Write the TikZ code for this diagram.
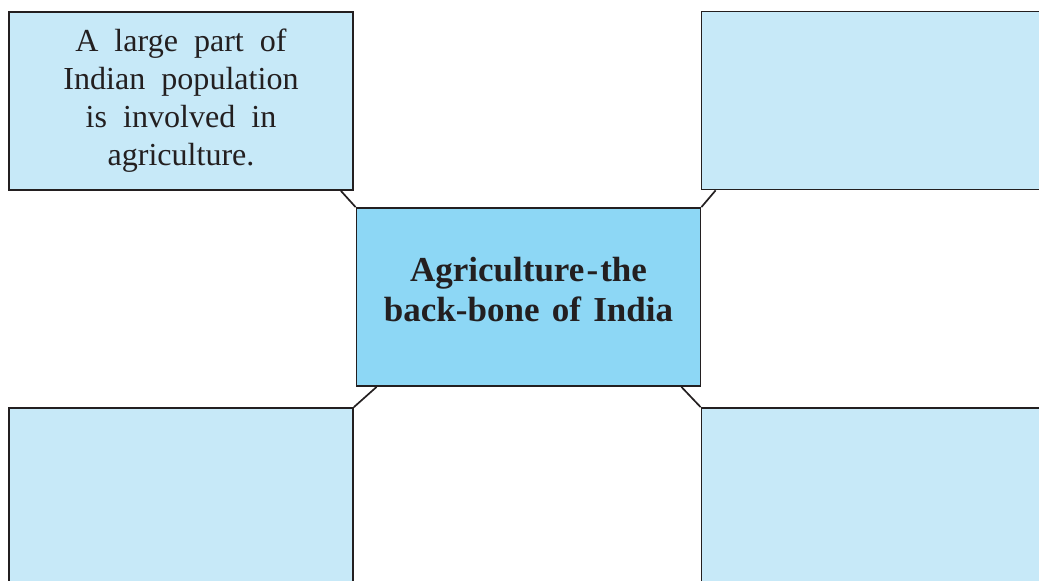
\documentclass[tikz,border=0pt]{standalone}
\usepackage{fontspec}
\setmainfont{Liberation Serif}
\definecolor{paleblue}{RGB}{199,233,248}
\definecolor{midblue}{RGB}{141,215,245}
\definecolor{inkgray}{RGB}{35,31,32}

\begin{document}
\begin{tikzpicture}[x=0.025cm,y=-0.025cm,
  sidebox/.style={draw=inkgray,line width=1.2pt,fill=paleblue,inner sep=0pt,
    minimum width=8.6cm,minimum height=4.45cm,align=center,text=inkgray,
    font=\fontsize{22.8}{27}\selectfont},
  mainbox/.style={sidebox,fill=midblue,text depth=0.4cm,
    font=\fontsize{24.9}{28.5}\selectfont\bfseries},
  link/.style={draw=inkgray,line width=1.2pt}]%
\useasboundingbox (0,0) rectangle (1039,580);%
\clip (0,0) rectangle (1039,580);%
\node[mainbox] (ctr) at (528.5,297) {Agriculture\kern1.5pt-\kern1.5pt the\\back-bone\hspace{0.1em} of\hspace{0.1em} India};%
\node[sidebox] (tl) at (181,101) {A\ \ large\ \ part\ \ of\\Indian\ \ population\\is\ \ involved\ \ in\\agriculture.};%
\node[sidebox] (tr) at (873.5,100.5) {};%
\node[sidebox] (bl) at (181,497) {};%
\node[sidebox] (br) at (873.5,497) {};%
\draw[link] ([xshift=-0.325cm]tl.south east) -- (ctr.north west);%
\draw[link] ([xshift=0.375cm]tr.south west) -- (ctr.north east);%
\draw[link] ([xshift=0.525cm]ctr.south west) -- (bl.north east);%
\draw[link] ([xshift=-0.5cm]ctr.south east) -- (br.north west);%
\end{tikzpicture}
\end{document}
